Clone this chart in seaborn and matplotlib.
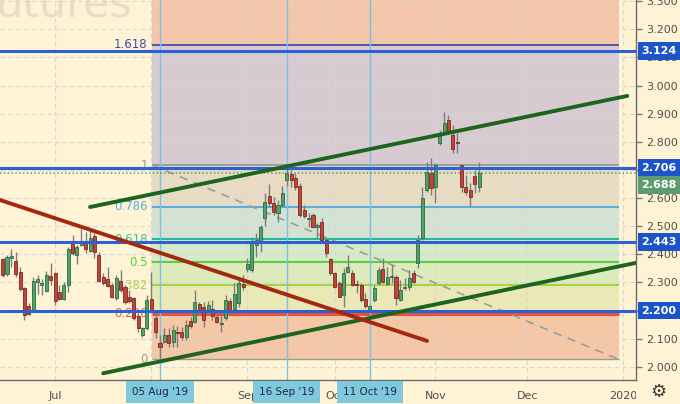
import numpy as np
import pandas as pd
import matplotlib
matplotlib.use("Agg")
import matplotlib.pyplot as plt
import matplotlib.transforms as mtransforms
import seaborn as sns

# ---------------- data ----------------
# trading-day index, 0 = 05 Aug 2019
bar_index = list(range(-36, 74))
opens = [2.383, 2.330, 2.387, 2.376, 2.337, 2.280, 2.216, 2.198, 2.301, 2.291,
         2.269, 2.323, 2.333, 2.266, 2.241, 2.291, 2.447, 2.397, 2.433, 2.444,
         2.412, 2.465, 2.397, 2.319, 2.312, 2.291, 2.245, 2.305, 2.284, 2.248,
         2.245, 2.181, 2.113, 2.138, 2.241, 2.173,
         2.085, 2.088, 2.113, 2.088, 2.124, 2.124, 2.106, 2.163, 2.159, 2.223,
         2.213, 2.202, 2.206, 2.177, 2.152, 2.173, 2.234, 2.206, 2.227, 2.294,
         2.348, 2.344, 2.433, 2.440, 2.529, 2.607, 2.582, 2.547, 2.575, 2.664,
         2.685, 2.671, 2.643, 2.557, 2.526, 2.540, 2.497, 2.515, 2.451, 2.383,
         2.333, 2.298, 2.255, 2.337, 2.333, 2.294, 2.291, 2.241, 2.202, 2.238,
         2.298, 2.348, 2.294, 2.319, 2.319, 2.238, 2.280, 2.284, 2.333, 2.369,
         2.458, 2.629, 2.689, 2.639, 2.796, 2.831, 2.878, 2.824, 2.799, 2.717,
         2.639, 2.629, 2.678, 2.639]
highs = [2.387, 2.397, 2.419, 2.408, 2.355, 2.284, 2.227, 2.319, 2.326, 2.312,
         2.340, 2.369, 2.337, 2.291, 2.301, 2.426, 2.469, 2.433, 2.490, 2.479,
         2.483, 2.476, 2.408, 2.333, 2.355, 2.298, 2.326, 2.344, 2.291, 2.273,
         2.248, 2.191, 2.141, 2.255, 2.337, 2.191,
         2.113, 2.138, 2.138, 2.149, 2.145, 2.141, 2.166, 2.177, 2.273, 2.230,
         2.230, 2.234, 2.238, 2.191, 2.184, 2.255, 2.245, 2.298, 2.316, 2.326,
         2.387, 2.462, 2.476, 2.504, 2.618, 2.650, 2.604, 2.593, 2.643, 2.717,
         2.700, 2.689, 2.653, 2.575, 2.547, 2.547, 2.511, 2.529, 2.462, 2.387,
         2.337, 2.305, 2.351, 2.397, 2.344, 2.309, 2.298, 2.262, 2.220, 2.291,
         2.355, 2.387, 2.355, 2.362, 2.326, 2.309, 2.316, 2.344, 2.344, 2.469,
         2.639, 2.728, 2.742, 2.725, 2.842, 2.906, 2.895, 2.860, 2.831, 2.717,
         2.682, 2.653, 2.700, 2.728]
lows = [2.319, 2.323, 2.355, 2.319, 2.269, 2.166, 2.184, 2.195, 2.259, 2.255,
        2.266, 2.291, 2.220, 2.238, 2.238, 2.266, 2.397, 2.365, 2.430, 2.405,
        2.408, 2.387, 2.301, 2.291, 2.284, 2.245, 2.238, 2.266, 2.223, 2.227,
        2.166, 2.124, 2.106, 2.131, 2.191, 2.102,
        2.031, 2.085, 2.070, 2.070, 2.070, 2.095, 2.095, 2.138, 2.156, 2.184,
        2.141, 2.184, 2.166, 2.156, 2.124, 2.166, 2.191, 2.202, 2.213, 2.273,
        2.337, 2.337, 2.390, 2.408, 2.501, 2.568, 2.540, 2.515, 2.568, 2.643,
        2.639, 2.629, 2.533, 2.529, 2.497, 2.494, 2.458, 2.440, 2.390, 2.326,
        2.280, 2.248, 2.213, 2.333, 2.287, 2.262, 2.230, 2.209, 2.195, 2.230,
        2.291, 2.298, 2.291, 2.298, 2.220, 2.234, 2.273, 2.273, 2.298, 2.351,
        2.451, 2.622, 2.611, 2.582, 2.789, 2.824, 2.831, 2.760, 2.760, 2.622,
        2.611, 2.572, 2.618, 2.622]
closes = [2.326, 2.390, 2.394, 2.330, 2.277, 2.184, 2.188, 2.305, 2.312, 2.298,
          2.326, 2.309, 2.234, 2.241, 2.291, 2.419, 2.405, 2.426, 2.444, 2.419,
          2.458, 2.408, 2.305, 2.298, 2.287, 2.248, 2.316, 2.273, 2.230, 2.234,
          2.173, 2.138, 2.138, 2.238, 2.202, 2.124,
          2.070, 2.113, 2.085, 2.131, 2.120, 2.106, 2.149, 2.145, 2.230, 2.202,
          2.166, 2.220, 2.181, 2.159, 2.156, 2.238, 2.198, 2.259, 2.298, 2.284,
          2.365, 2.444, 2.451, 2.497, 2.586, 2.582, 2.550, 2.575, 2.618, 2.689,
          2.664, 2.639, 2.540, 2.536, 2.529, 2.497, 2.504, 2.451, 2.405, 2.333,
          2.284, 2.248, 2.333, 2.355, 2.291, 2.291, 2.238, 2.216, 2.216, 2.280,
          2.344, 2.301, 2.319, 2.323, 2.245, 2.273, 2.284, 2.316, 2.301, 2.451,
          2.600, 2.693, 2.636, 2.717, 2.821, 2.867, 2.835, 2.774, 2.796, 2.639,
          2.622, 2.604, 2.650, 2.689]

x_tick_pos = [-24, -2, 20, 40, 63, 84, 106]
x_tick_labels = ["Jul", "", "Sep", "Oct", "Nov", "Dec", "2020"]
marker_pos = [0, 29, 48]
marker_labels = ["05 Aug '19", "16 Sep '19", "11 Oct '19"]

y_ticks = [2.0, 2.1, 2.2, 2.3, 2.4, 2.5, 2.6, 2.7, 2.8, 2.9, 3.0, 3.1, 3.2, 3.3]
h_levels = [3.124, 2.706, 2.443, 2.200]
last_price = 2.688

fib_anchor_x = [-1.8, 105.0]
fib_anchor_p = [2.717, 2.026]
fib_ratios = [0, 0.236, 0.382, 0.5, 0.618, 0.786, 1, 1.618, 2.618]
fib_labels = ["0", "0.236", "0.382", "0.5", "0.618", "0.786", "1", "1.618"]

trend_upper_x = [-16.0, 106.9]
trend_upper_p = [2.568, 2.963]
trend_lower_x = [-13.0, 110.0]
trend_lower_p = [1.977, 2.373]
trend_red_x = [-38.0, 61.1]
trend_red_p = [2.600, 2.092]

# ---------------- style ----------------
sns.set_theme(style="white")
plt.rcParams["font.family"] = ["DejaVu Sans"]
BG = "#fef4d5"
GRID = "#d9d5d6"
TXT = "#4f4f4f"

fig = plt.figure(figsize=(6.8, 4.04), dpi=100, facecolor=BG)
ax = fig.add_axes([0, 24 / 404, 636 / 680, 380 / 404], facecolor=BG)
ax.set_xlim(-36.6, 108.9)
ax.set_ylim(1.953, 3.304)

# watermark
ax.text(-0.008, 0.956, "utures", transform=ax.transAxes, fontsize=31,
        color="#e8dec4", ha="left", va="baseline", zorder=0.3)

# fib zones
p_hi, p_lo = fib_anchor_p
fx0, fx1 = fib_anchor_x


def lvl(r):
    return p_lo + r * (p_hi - p_lo)


zone_colors = ["#f4c7a6", "#ebe8b8", "#ddebbc", "#d6e9c8", "#d4e2d4",
               "#e7dcc3", "#d7cbd2", "#f3c6a9"]
for i in range(len(fib_ratios) - 1):
    ax.fill_between([fx0, fx1], lvl(fib_ratios[i]), lvl(fib_ratios[i + 1]),
                    color=zone_colors[i], lw=0, zorder=0.5)

# grid
for yv in y_ticks:
    ax.axhline(yv, color=GRID, lw=0.8, ls=(0, (4, 3)), zorder=0.8)
for xv in x_tick_pos:
    ax.axvline(xv, color=GRID, lw=0.8, ls=(0, (4, 3)), zorder=0.8)

line_colors = ["#9a9a9a", "#e0553f", "#a5d23f", "#5ccc45", "#27b894",
               "#58aee0", "#9e9e9e", "#3b3f9e"]
label_colors = ["#9a9a9a", "#e0604f", "#b0cf48", "#5ccc45", "#2fc49a",
                "#5aaee0", "#9a9a9a", "#3d4aa8"]
line_widths = [1.0, 2.2, 1.5, 1.5, 1.5, 1.5, 1.5, 1.2]
for r, lab, lc, tc, lw in zip(fib_ratios[:-1], fib_labels, line_colors,
                              label_colors, line_widths):
    ax.hlines(lvl(r), fx0, fx1, color=lc, lw=lw, zorder=1)
    ax.text(fx0 - 1.0, lvl(r), lab, ha="right", va="center", fontsize=8.5,
            color=tc, zorder=1.1)

ax.plot(fib_anchor_x, fib_anchor_p, ls=(0, (5, 4)), color="#9c9c9c", lw=1.2,
        zorder=1.2)

# date markers
for xv in marker_pos:
    ax.axvline(xv, color="#79c1e6", lw=1, zorder=1.3)

# horizontal levels
for p in h_levels:
    ax.axhline(p, color="#2a62d6", lw=2.2, zorder=4)
ax.axhline(last_price, color="#5e9c70", lw=1.1, ls=(0, (1, 1.5)), zorder=2)

# candles
df = pd.DataFrame(dict(i=bar_index, o=opens, h=highs, l=lows, c=closes))
up = (df.c >= df.o).values
ax.vlines(df.i, df.l, df.h, color="#7c7c7c", lw=1, zorder=3)
body = (df.c - df.o).abs().clip(lower=0.004)
ax.bar(df.i, body, bottom=np.minimum(df.o, df.c), width=0.7,
       color=np.where(up, "#52a06a", "#bf4538"),
       edgecolor=np.where(up, "#2e6a44", "#7c2a22"), lw=0.6, zorder=3.2)

# trend lines
tl = pd.DataFrame({
    "x": trend_upper_x + trend_lower_x + trend_red_x,
    "p": trend_upper_p + trend_lower_p + trend_red_p,
    "line": ["up"] * 2 + ["low"] * 2 + ["red"] * 2,
})
sns.lineplot(data=tl, x="x", y="p", hue="line", estimator=None, sort=False,
             palette={"up": "#1e641f", "low": "#1e641f", "red": "#a4280f"},
             lw=2.8, legend=False, ax=ax, zorder=4.5)
ax.set_xlabel("")
ax.set_ylabel("")

# axes styling
for s in ["top", "left"]:
    ax.spines[s].set_visible(False)
for s in ["right", "bottom"]:
    ax.spines[s].set_color("#6a6a6a")
    ax.spines[s].set_linewidth(1)
    ax.spines[s].set_zorder(6)

ax.yaxis.tick_right()
ax.set_yticks(y_ticks)
ax.set_yticklabels([f"{v:.3f}" for v in y_ticks])
ax.tick_params(axis="y", length=4, width=1, color="#777777", pad=3,
               labelsize=8, labelcolor=TXT)
ax.set_xticks(x_tick_pos)
ax.set_xticklabels(x_tick_labels)
ax.tick_params(axis="x", length=3, width=1, color="#777777", pad=5,
               labelsize=8, labelcolor=TXT)
clip = mtransforms.TransformedBbox(
    mtransforms.Bbox([[0, 0], [636 / 680, 1]]), fig.transFigure)
for lbl in ax.get_xticklabels():
    lbl.set_clip_box(clip)
    lbl.set_clip_on(True)

# price boxes
blend = mtransforms.blended_transform_factory(ax.transAxes, ax.transData)
for p in h_levels:
    ax.annotate(f"{p:.3f}", xy=(1, p), xycoords=blend, xytext=(4, 0),
                textcoords="offset points", ha="left", va="center",
                fontsize=8, fontweight="bold", color="white",
                bbox=dict(boxstyle="square,pad=0.35", fc="#1b55c9", ec="none"),
                annotation_clip=False, zorder=7)
ax.annotate(f"{last_price:.3f}", xy=(1, last_price), xycoords=blend,
            xytext=(4, -8.5), textcoords="offset points", ha="left",
            va="center", fontsize=8, fontweight="bold", color="white",
            bbox=dict(boxstyle="square,pad=0.35", fc="#5e9c70", ec="none"),
            annotation_clip=False, zorder=7)

# date boxes on the time axis
for xv, lab in zip(marker_pos, marker_labels):
    ax.annotate(lab, xy=(xv, 0), xycoords=("data", "axes fraction"),
                xytext=(0, -8.6), textcoords="offset points", ha="center",
                va="center", fontsize=7.5, color="#1d2b36",
                bbox=dict(boxstyle="square,pad=0.55", fc="#80c8de", ec="none"),
                annotation_clip=False, zorder=7)

# settings icon
fig.text(658 / 680, 1 - 392 / 404, "\u2699", ha="center", va="center",
         fontsize=13, color="#3a3a3a")

fig.savefig("out.png", dpi=100, facecolor=BG)
